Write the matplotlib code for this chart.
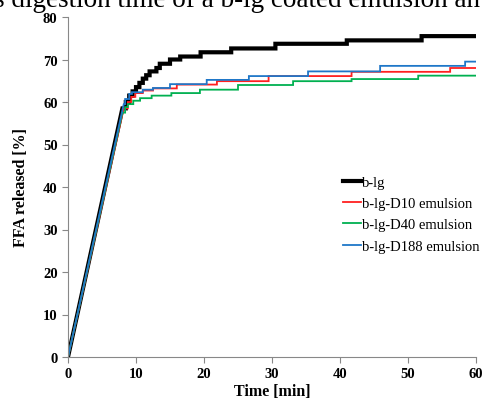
import matplotlib
matplotlib.use("Agg")
import matplotlib.pyplot as plt
import numpy as np

# step knots: (time at which value is reached, value); ramp starts at (0, 0)
blg_t = [8.0, 8.5, 9.0, 9.5, 10.0, 10.5, 11.0, 11.5, 12.0, 13.0, 13.5, 15.0, 16.5, 19.5, 24.0, 30.5, 41.0, 52.0, 60.0]
blg_v = [58.5, 60.0, 61.5, 62.5, 63.5, 64.5, 65.5, 66.3, 67.2, 68.0, 69.0, 70.0, 70.7, 71.7, 72.6, 73.7, 74.5, 75.5, 75.5]

d10_t = [8.2, 8.8, 9.3, 9.9, 11.0, 12.5, 16.0, 21.9, 29.5, 41.7, 56.2, 60.0]
d10_v = [58.5, 60.0, 61.2, 62.1, 62.7, 63.2, 64.1, 64.9, 66.1, 67.1, 68.0, 68.0]

d40_t = [8.0, 8.4, 8.8, 9.6, 10.6, 12.3, 15.2, 19.4, 25.0, 33.1, 41.7, 51.5, 60.0]
d40_v = [57.5, 58.8, 59.5, 60.3, 60.9, 61.5, 62.1, 62.9, 64.0, 64.9, 65.4, 66.2, 66.2]

d188_t = [8.2, 8.4, 9.0, 9.4, 11.0, 12.5, 15.0, 20.4, 26.6, 35.3, 45.9, 58.4, 60.0]
d188_v = [59.5, 60.7, 61.9, 62.3, 62.9, 63.3, 64.2, 65.2, 66.1, 67.2, 68.5, 69.5, 69.5]

series = [
    ("b-lg", blg_t, blg_v, "black", 3.0),
    ("b-lg-D10 emulsion", d10_t, d10_v, "#FF2020", 1.3),
    ("b-lg-D40 emulsion", d40_t, d40_v, "#00B050", 1.3),
    ("b-lg-D188 emulsion", d188_t, d188_v, "#1F77C8", 1.3),
]

plt.rcParams["font.family"] = "Liberation Serif"

fig = plt.figure(figsize=(4.86, 4.06), dpi=100)
ax = fig.add_axes([68 / 486, 48 / 406, 408 / 486, 340 / 406])

for name, t, v, col, lw in series:
    t = np.asarray(t)
    v = np.asarray(v)
    # linear ramp from 0 to the first knot, then step-post path
    xs = np.concatenate([[0.0], [t[0]], np.repeat(t[1:], 2)])
    ys = np.concatenate([[0.0], np.repeat(v[:-1], 2), [v[-1]]])
    ax.plot(xs, ys, color=col, lw=lw, label=name, solid_joinstyle="miter")

ax.set_xlim(0, 60)
ax.set_ylim(0, 80)
ax.set_xticks(range(0, 61, 10))
ax.set_yticks(range(0, 81, 10))
for s in ["top", "right"]:
    ax.spines[s].set_visible(False)
for s in ["left", "bottom"]:
    ax.spines[s].set_color("#888888")
    ax.spines[s].set_linewidth(0.8)
ax.tick_params(colors="#888888", length=4, width=0.8, labelcolor="black", labelsize=10.5)
for lab in ax.get_xticklabels() + ax.get_yticklabels():
    lab.set_fontweight("bold")

ax.set_xlabel("Time [min]", fontsize=11.5, fontweight="bold", labelpad=2)
ax.set_ylabel("FFA released [%]", fontsize=11.5, fontweight="bold", labelpad=10)

ax.legend(loc="upper left", bbox_to_anchor=(0.66, 0.55), frameon=False,
          fontsize=10.5, handlelength=1.2, handletextpad=0.1,
          labelspacing=0.55, borderaxespad=0)

# partially visible caption cut by the top edge
fig.text(-0.012, 1 - 7 / 406, "s digestion time of a b-lg coated emulsion an",
         fontsize=19.5, ha="left", va="baseline")

fig.savefig("out.png", dpi=100)
plt.close(fig)
